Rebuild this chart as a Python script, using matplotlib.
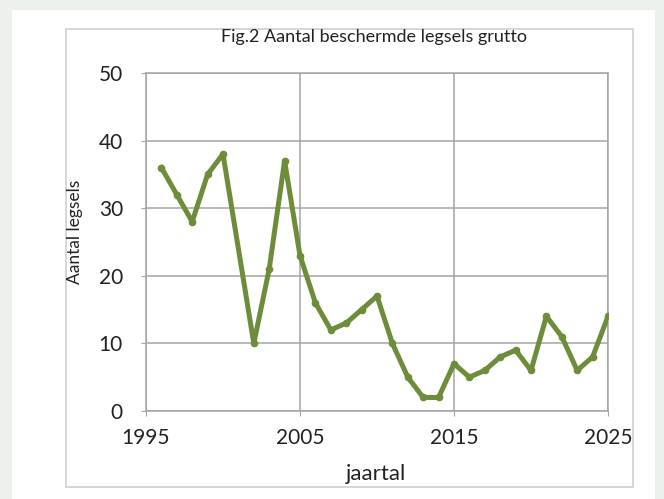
import matplotlib.pyplot as plt
from matplotlib.patches import Rectangle

# data (2001 has no point)
years = [1996, 1997, 1998, 1999, 2000, 2002, 2003, 2004, 2005, 2006,
         2007, 2008, 2009, 2010, 2011, 2012, 2013, 2014, 2015, 2016,
         2017, 2018, 2019, 2020, 2021, 2022, 2023, 2024, 2025]
legsels = [36, 32, 28, 35, 38, 10, 21, 37, 23, 16,
           12, 13, 15, 17, 10, 5, 2, 2, 7, 5,
           6, 8, 9, 6, 14, 11, 6, 8, 14]
x_ticks = [1995, 2005, 2015, 2025]
y_ticks = [0, 10, 20, 30, 40, 50]

W, H = 664, 499
plt.rcParams['font.family'] = ['Lato', 'DejaVu Sans']
txt = '#222222'

fig = plt.figure(figsize=(W / 100, H / 100), dpi=100)
fig.patch.set_facecolor('#edf1ed')

# white page and the chart border, behind the axes
fig.add_artist(Rectangle((12 / W, 0), (655 - 12) / W, 1 - 10 / H,
                         transform=fig.transFigure, facecolor='white',
                         edgecolor='none', zorder=-2))
fig.add_artist(Rectangle((66 / W, 1 - 487 / H), (633 - 66) / W, (487 - 29) / H,
                         transform=fig.transFigure, facecolor='none',
                         edgecolor='#d0d0d0', lw=1.2, zorder=-1))

L, R, T, B = 146, 608, 73, 411
ax = fig.add_axes([L / W, 1 - B / H, (R - L) / W, (B - T) / H])
ax.set_facecolor('none')

ax.plot(years, legsels, color='#6e8d3a', lw=3.6, marker='o', markersize=4.5,
        solid_joinstyle='round', zorder=3)

ax.set_xlim(1995, 2025)
ax.set_ylim(0, 50)
ax.set_xticks(x_ticks)
ax.set_yticks(y_ticks)
ax.grid(True, color='#a4a4a4', lw=1.1)
for s in ax.spines.values():
    s.set_color('#a4a4a4')
    s.set_linewidth(1.1)
ax.tick_params(axis='both', length=3.6, color='#a4a4a4', labelsize=15,
               labelcolor=txt)
ax.tick_params(axis='x', pad=9)
ax.tick_params(axis='y', pad=13)

ax.set_xlabel('jaartal', fontsize=16, color=txt, va='center')
ax.xaxis.set_label_coords((376 - L) / (R - L), (B - 474) / (B - T))
ax.set_ylabel('Aantal legsels', fontsize=12.5, color=txt, va='center')
ax.yaxis.set_label_coords((75 - L) / (R - L), (B - 232) / (B - T))

fig.text(374 / W, 1 - 37 / H, 'Fig.2 Aantal beschermde legsels grutto',
         ha='center', va='center', fontsize=13, color=txt)

fig.savefig('out.png', dpi=100, facecolor=fig.get_facecolor())
